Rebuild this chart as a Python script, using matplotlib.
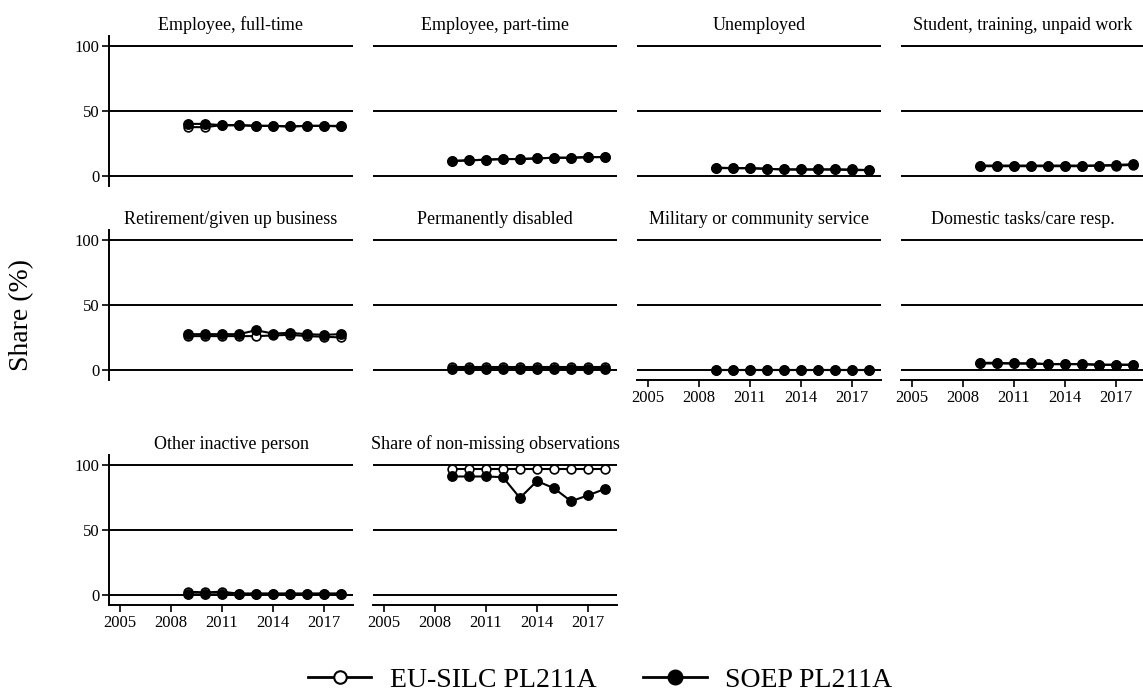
import numpy as np
import matplotlib
matplotlib.use("Agg")
import matplotlib.pyplot as plt
from matplotlib.lines import Line2D

plt.rcParams['font.family'] = ['Liberation Serif', 'DejaVu Serif']

years = [2009, 2010, 2011, 2012, 2013, 2014, 2015, 2016, 2017, 2018]

titles = [
    "Employee, full-time", "Employee, part-time", "Unemployed", "Student, training, unpaid work",
    "Retirement/given up business", "Permanently disabled", "Military or community service",
    "Domestic tasks/care resp.", "Other inactive person", "Share of non-missing observations",
]

# EU-SILC PL211A (hohle Kreise)
eu_fulltime = [37.5, 37.5, 39, 39, 38.5, 38.5, 38, 38.5, 38.5, 38]
eu_parttime = [11.5, 12, 12.5, 13, 13, 13.5, 14, 14, 14.5, 14.5]
eu_unemployed = [6, 6, 6, 5.5, 5, 5, 5, 5, 4.5, 4.5]
eu_student = [7.5, 7.5, 7.5, 7.5, 7.5, 7.5, 7.5, 8, 8, 8.5]
eu_retired = [26, 26, 26, 26, 26, 26.5, 27, 26, 25.5, 25]
eu_disabled = [2.5, 2.5, 2.5, 2.5, 2.5, 2.5, 2.5, 2.5, 2.5, 2.5]
eu_military = [0.2, 0.2, 0.2, 0.2, 0.2, 0.2, 0.2, 0.2, 0.2, 0.2]
eu_domestic = [5, 5, 5, 5, 4.5, 4.5, 4.5, 4, 4, 4]
eu_other = [2.5, 2, 2.5, 1, 1, 1, 1, 1, 1, 1]
eu_nonmissing = [96.5, 96.5, 96.5, 96.5, 96.5, 96.5, 96.5, 96.5, 96.5, 96.5]

# SOEP PL211A (gefuellte Kreise)
soep_fulltime = [40, 40, 39, 39, 38.5, 38.5, 38, 38.5, 38.5, 38.5]
soep_parttime = [11.5, 12, 12.5, 13, 13, 13.5, 14, 14, 14.5, 14.5]
soep_unemployed = [6.5, 6, 6, 5.5, 5, 5, 5, 5, 5, 4.5]
soep_student = [8, 8, 8, 8, 8, 8, 8, 8, 8.5, 9]
soep_retired = [27.5, 27.5, 27.5, 27.5, 30.5, 28, 28.5, 27.5, 27, 27.5]
soep_disabled = [1, 1, 1, 1, 1, 1, 1, 1, 1, 1]
soep_military = [0.3, 0.3, 0.3, 0.3, 0.3, 0.3, 0.3, 0.3, 0.3, 0.3]
soep_domestic = [5.5, 5.5, 5, 5, 4.5, 4.5, 4.5, 4, 4, 4]
soep_other = [0.5, 0.5, 0.5, 1, 1, 1, 1, 1, 1, 1]
soep_nonmissing = [91, 91, 91, 90.5, 74.5, 87.5, 82, 72, 76.5, 81.5]

eu_series = [eu_fulltime, eu_parttime, eu_unemployed, eu_student, eu_retired,
             eu_disabled, eu_military, eu_domestic, eu_other, eu_nonmissing]
soep_series = [soep_fulltime, soep_parttime, soep_unemployed, soep_student, soep_retired,
               soep_disabled, soep_military, soep_domestic, soep_other, soep_nonmissing]

W, H = 1143, 693
fig = plt.figure(figsize=(W / 100, H / 100), dpi=100)

col_left = [109, 373, 637, 901]
row_top = [36, 230, 455]
ax_w, ax_h = 244, 150

# Panels mit x-Achse
with_xaxis = {6, 7, 8, 9}

for i in range(10):
    r, c = divmod(i, 4)
    ax = fig.add_axes([col_left[c] / W, 1 - (row_top[r] + ax_h) / H, ax_w / W, ax_h / H])
    ax.set_xlim(2004.37, 2018.7)
    ax.set_ylim(-7.7, 107.5)
    for yv in [0, 50, 100]:
        ax.axhline(yv, color='black', lw=1.4, zorder=1)
    ax.plot(years, eu_series[i], color='black', lw=1.5, marker='o', ms=6.3,
            mfc='white', mec='black', mew=1.2, zorder=3)
    ax.plot(years, soep_series[i], color='black', lw=1.5, marker='o', ms=6.8,
            mfc='black', mec='black', zorder=4)
    ax.set_title(titles[i], fontsize=13, pad=4.5)

    for s in ['top', 'right']:
        ax.spines[s].set_visible(False)
    ax.spines['left'].set_visible(c == 0)
    ax.spines['bottom'].set_visible(i in with_xaxis)
    ax.spines['left'].set_linewidth(1.4)
    ax.spines['bottom'].set_linewidth(1.4)

    if c == 0:
        ax.set_yticks([0, 50, 100])
        ax.tick_params(axis='y', labelsize=12, length=5, width=1.2, pad=2)
    else:
        ax.set_yticks([])
    if i in with_xaxis:
        ax.set_xticks([2005, 2008, 2011, 2014, 2017])
        ax.tick_params(axis='x', labelsize=12, length=5, width=1.2, pad=2)
    else:
        ax.set_xticks([])

fig.text(22 / W, 1 - 315 / H, "Share (%)", rotation=90, fontsize=20, ha='center', va='center')

handles = [
    Line2D([], [], color='black', lw=2, marker='o', ms=9, mfc='white', mec='black', mew=1.5),
    Line2D([], [], color='black', lw=2, marker='o', ms=10.5, mfc='black', mec='black'),
]
fig.legend(handles, ["EU-SILC PL211A", "SOEP PL211A"], loc='center',
           bbox_to_anchor=(600 / W, 1 - 680 / H), ncol=2, frameon=False, fontsize=20,
           handlelength=2.3, handletextpad=0.65, columnspacing=1.7, borderpad=0)

plt.savefig("out.png", dpi=100)
